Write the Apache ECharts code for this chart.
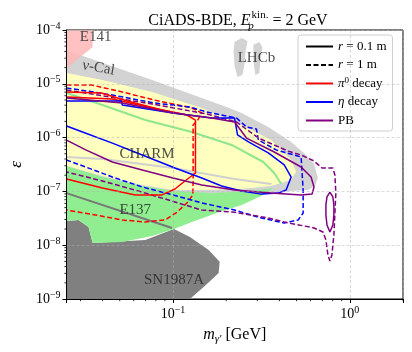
<!DOCTYPE html>
<html>
<head>
<meta charset="utf-8">
<script src="https://cdn.jsdelivr.net/npm/echarts@6/dist/echarts.min.js"></script>
<style>
html, body { margin: 0; padding: 0; background: #fff; }
#chart { width: 412px; height: 352px; }
</style>
</head>
<body>
<div id="chart"></div>
<script>
// axis ranges: dark photon mass m [GeV] and kinetic mixing epsilon
const massRange = [0.025, 2];
const epsRange = [1e-9, 1e-4];
const massMinorTicks = [0.03, 0.04, 0.05, 0.06, 0.07, 0.08, 0.09, 0.2, 0.3, 0.4, 0.5, 0.6, 0.7, 0.8, 0.9, 2];
const epsMinorTicks = [];
[1e-9, 1e-8, 1e-7, 1e-6, 1e-5].forEach(d => { [2, 3, 4, 5, 6, 7, 8, 9].forEach(k => epsMinorTicks.push(k * d)); });

// existing bounds (filled regions), points as [m, eps]
const e141Region = [[0.025, 1e-4], [0.0351, 1e-4], [0.0351, 4.8e-5], [0.025, 1.97e-5]];
const nuCalRegion = [[0.025, 4.2e-5], [0.0762, 1.18e-5], [0.2011, 3.71e-6], [0.2443, 2.87e-6], [0.3461, 1.57e-6], [0.4662, 8.3e-7], [0.5662, 4.75e-7], [0.6276, 3.23e-7], [0.6607, 1.77e-7], [0.6359, 1.26e-7], [0.5807, 1.06e-7], [0.4662, 1.02e-7], [0.278, 9.3e-8], [0.025, 9.3e-8]];
const lhcbRegionA = [[0.223, 6.0e-5], [0.2443, 7.1e-5], [0.2638, 6.25e-5], [0.257, 3.9e-5], [0.2537, 2.33e-5], [0.2472, 1.46e-5], [0.2318, 1.34e-5], [0.223, 2.14e-5], [0.2202, 3.9e-5]];
const lhcbRegionB = [[0.2851, 5.3e-5], [0.3081, 6.0e-5], [0.3206, 4.8e-5], [0.3121, 2.77e-5], [0.3081, 1.59e-5], [0.2925, 1.46e-5], [0.2851, 2.54e-5]];
const charmRegion = [[0.025, 1.59e-5], [0.0399, 1.18e-5], [0.0762, 7.04e-6], [0.1455, 3.55e-6], [0.2443, 1.71e-6], [0.3597, 9.0e-7], [0.4662, 3.83e-7], [0.4974, 2.3e-7], [0.4786, 1.93e-7], [0.4662, 1.63e-7], [0.3597, 1.26e-7], [0.2443, 1.11e-7], [0.1455, 1.06e-7], [0.1, 1.06e-7], [0.067, 1.32e-7], [0.0399, 1.93e-7], [0.025, 2.97e-7]];
const e137Region = [[0.025, 2.97e-7], [0.0399, 1.85e-7], [0.067, 1.26e-7], [0.1, 1.02e-7], [0.1656, 9.3e-8], [0.278, 1.02e-7], [0.369, 1.16e-7], [0.3244, 8.6e-8], [0.2443, 5.6e-8], [0.1767, 3.97e-8], [0.1279, 2.7e-8], [0.1013, 2.0e-8], [0.0762, 1.48e-8], [0.0517, 1.15e-8], [0.0351, 1.10e-8], [0.0333, 2.18e-8], [0.0292, 2.94e-8], [0.025, 2.82e-8]];
const sn1987aRegion = [[0.025, 2.82e-8], [0.0292, 2.94e-8], [0.0333, 2.18e-8], [0.0351, 1.10e-8], [0.0697, 1.25e-8], [0.1013, 2.0e-8], [0.1246, 1.42e-8], [0.1592, 8.1e-9], [0.1836, 4.9e-9], [0.1813, 3.04e-9], [0.1513, 1.75e-9], [0.1246, 1e-9], [0.025, 1e-9]];

// other bound curves
const lightGreenCurve = [[0.025, 6.75e-6], [0.0399, 4.04e-6], [0.0697, 2.12e-6], [0.1279, 1.27e-6], [0.2145, 7.3e-7], [0.3244, 3.52e-7], [0.3739, 2.2e-7], [0.4097, 1.37e-7]];
const silverCurve = [[0.025, 4.36e-7], [0.0399, 4.0e-7], [0.1, 2.72e-7], [0.223, 1.70e-7], [0.3597, 1.37e-7]];
const grayCurve = [[0.025, 9.3e-8], [0.0987, 2.09e-8]];

// CiADS sensitivity contours
const pi0Near = [[0.025, 7.04e-6], [0.0394, 6.75e-6], [0.0551, 4.79e-6], [0.0867, 3.26e-6], [0.1199, 2.63e-6], [0.134, 2.12e-6], [0.134, 2.2e-7], [0.1168, 1.56e-7], [0.1026, 1.11e-7], [0.0867, 8.6e-8], [0.0612, 8.6e-8], [0.0399, 1.16e-7], [0.025, 1.70e-7]];
const pi0NearUpper = [[0.025, 5.68e-6], [0.0454, 5.21e-6], [0.0762, 3.55e-6], [0.1124, 2.75e-6]];
const pi0Far = [[0.025, 9.5e-6], [0.0346, 9.5e-6], [0.0517, 7.04e-6], [0.0782, 5.0e-6], [0.1279, 3.55e-6], [0.1455, 2.87e-6], [0.1381, 2.12e-6], [0.130, 1.71e-6], [0.130, 1.63e-7], [0.1295, 8.6e-8], [0.1199, 6.1e-8], [0.1053, 4.1e-8], [0.0902, 2.94e-8], [0.0697, 2.7e-8], [0.0517, 2.94e-8], [0.0365, 3.64e-8], [0.025, 4.5e-8]];
const etaNear = [[0.025, 4.79e-6], [0.051, 4.79e-6], [0.0517, 4.04e-6], [0.1, 2.87e-6], [0.1656, 2.31e-6], [0.223, 2.31e-6], [0.2318, 1.12e-6], [0.2673, 8.3e-7], [0.3461, 5.2e-7], [0.4257, 3.1e-7], [0.4662, 1.85e-7], [0.4365, 1.06e-7], [0.3942, 9.3e-8], [0.3162, 8.9e-8], [0.2443, 1.02e-7], [0.1884, 1.26e-7], [0.1455, 1.77e-7], [0.1026, 2.72e-7], [0.067, 4.75e-7], [0.0454, 7.9e-7], [0.0308, 1.27e-6], [0.025, 1.64e-6]];
const etaFar = [[0.025, 8.4e-6], [0.0454, 6.19e-6], [0.0782, 4.4e-6], [0.1246, 3.71e-6], [0.1552, 2.99e-6], [0.229, 2.31e-6], [0.2605, 1.57e-6], [0.2965, 1.44e-6], [0.3043, 9.0e-7], [0.3837, 5.9e-7], [0.5306, 4.36e-7], [0.5447, 1.06e-7], [0.5447, 3.97e-8], [0.5105, 2.94e-8], [0.4257, 2.59e-8], [0.3162, 3.2e-8], [0.223, 4.5e-8], [0.1455, 6.1e-8], [0.1, 8.6e-8], [0.067, 1.21e-7], [0.0454, 1.85e-7], [0.0321, 2.84e-7], [0.025, 3.83e-7]];
const pbNear = [[0.025, 5.44e-6], [0.0517, 4.4e-6], [0.1, 2.87e-6], [0.1656, 2.31e-6], [0.223, 1.95e-6], [0.2605, 9.8e-7], [0.3739, 5.4e-7], [0.5306, 2.84e-7], [0.6039, 1.85e-7], [0.6276, 1.21e-7], [0.6117, 8.9e-8], [0.5306, 8.6e-8], [0.3597, 9.3e-8], [0.223, 1.06e-7], [0.1455, 1.32e-7], [0.1, 1.77e-7], [0.067, 2.5e-7], [0.0454, 3.52e-7], [0.0321, 5.9e-7], [0.025, 9.0e-7]];
const pbNearIsland = [[0.772, 9.7e-8], [0.802, 7.9e-8], [0.813, 5.6e-8], [0.813, 3.64e-8], [0.802, 2.37e-8], [0.772, 1.76e-8], [0.743, 2.37e-8], [0.733, 3.64e-8], [0.733, 5.6e-8], [0.743, 7.9e-8], [0.772, 9.7e-8]];
const pbFar = [[0.025, 7.7e-6], [0.0762, 4.21e-6], [0.1552, 2.75e-6], [0.229, 1.95e-6], [0.3043, 9.8e-7], [0.4482, 5.6e-7], [0.5306, 4.75e-7], [0.6276, 3.67e-7], [0.6961, 2.72e-7], [0.802, 2.72e-7], [0.824, 2.02e-7], [0.834, 9.3e-8], [0.813, 1.55e-8], [0.7925, 6.6e-9], [0.772, 5.08e-9], [0.752, 6.6e-9], [0.733, 1.25e-8], [0.7051, 1.76e-8], [0.6276, 2.09e-8], [0.4257, 2.7e-8], [0.3461, 3.2e-8], [0.223, 4.1e-8], [0.1455, 4.5e-8], [0.067, 9.7e-8], [0.0399, 1.56e-7], [0.025, 2.3e-7]];

// region names written on the plot
const regionNames = ['E141', 'ν-Cal', 'LHCb', 'CHARM', 'E137', 'SN1987A'];
const regionNamePos = [[0.0365, 7.4e-5], [0.0379, 1.97e-5], [0.2965, 3.0e-5], [0.0714, 4.96e-7], [0.0612, 4.5e-8], [0.1013, 2.25e-9]];
const regionNameTilt = [0, -10, 0, 0, 0, 0];

const legendNames = ['r = 0.1 m', 'r = 1 m', 'π0 decay', 'η decay', 'PB'];

const SERIF = '"Liberation Serif", "DejaVu Serif", serif';
const chart = echarts.init(document.getElementById('chart'));

function region(name, pts, color) {
    return {
        type: 'custom', name: name, data: pts, silent: true, z: 1,
        renderItem: function (params, api) {
            if (params.dataIndex !== 0) return null;
            return {
                type: 'polygon',
                shape: { points: pts.map(p => api.coord(p)) },
                style: { fill: color, stroke: null }
            };
        }
    };
}

function curve(name, pts, color, dashed, width) {
    return {
        type: 'line', name: name, data: pts, symbol: 'none', silent: true, z: 3,
        lineStyle: { color: color, width: width || 1.5, type: dashed ? [5, 2.5] : 'solid' },
        itemStyle: { color: color }
    };
}

function powLabel(v) {
    const e = Math.log10(v);
    const r = Math.round(e);
    if (Math.abs(e - r) > 1e-6) return '';
    return '{b|10}{s|' + String(r).replace('-', '−') + '}';
}

const tickRich = {
    b: { fontFamily: SERIF, fontSize: 14, lineHeight: 18, color: '#000' },
    s: { fontFamily: SERIF, fontSize: 10, lineHeight: 9, verticalAlign: 'top', color: '#000' }
};

const option = {
    animation: false,
    backgroundColor: '#fff',
    title: {
        text: '{b|CiADS-BDE, }{i|E}{sub|p}{sup|kin.}{b| = 2 GeV}',
        left: 233, top: 5, textAlign: 'center',
        textStyle: {
            fontWeight: 'normal',
            rich: {
                b: { fontFamily: SERIF, fontSize: 16, lineHeight: 22, fontWeight: 'normal', color: '#000' },
                i: { fontFamily: SERIF, fontSize: 16, lineHeight: 22, fontStyle: 'italic', fontWeight: 'normal', color: '#000' },
                sub: { fontFamily: SERIF, fontSize: 11, lineHeight: 14, verticalAlign: 'bottom', fontStyle: 'italic', fontWeight: 'normal', width: 1, color: '#000' },
                sup: { fontFamily: SERIF, fontSize: 11, lineHeight: 11, verticalAlign: 'top', fontWeight: 'normal', color: '#000' }
            }
        }
    },
    grid: { left: 64, right: 9, top: 30, bottom: 53, show: true, borderColor: '#000', borderWidth: 1 },
    legend: {
        data: legendNames,
        orient: 'vertical', left: 298, top: 35,
        itemWidth: 27, itemHeight: 14, itemGap: 3.5,
        padding: [4, 6, 3, 7],
        borderColor: '#cfcfcf', borderWidth: 1, borderRadius: 3,
        backgroundColor: 'rgba(255,255,255,0.85)',
        selectedMode: false,
        itemStyle: { opacity: 0, borderWidth: 0 },
        textStyle: { fontFamily: SERIF, fontSize: 13, lineHeight: 15, color: '#000',
            rich: {
                i: { fontStyle: 'italic', fontFamily: SERIF, fontSize: 13 },
                s: { fontFamily: SERIF, fontSize: 9, lineHeight: 8, verticalAlign: 'top' }
            }
        },
        formatter: function (name) {
            if (name === 'r = 0.1 m') return '{i|r} = 0.1 m';
            if (name === 'r = 1 m') return '{i|r} = 1 m';
            if (name === 'π0 decay') return '{i|π}{s|0} decay';
            if (name === 'η decay') return '{i|η} decay';
            return name;
        }
    },
    xAxis: {
        type: 'log', logBase: 10, min: massRange[0], max: massRange[1], z: 5,
        name: '{i|m}{sub|γ′}{n| [GeV]}', nameLocation: 'middle', nameGap: 26,
        nameTextStyle: {
            rich: {
                i: { fontFamily: SERIF, fontSize: 16, lineHeight: 20, fontStyle: 'italic', color: '#000' },
                sub: { fontFamily: SERIF, fontSize: 11, lineHeight: 15, verticalAlign: 'bottom', fontStyle: 'italic', color: '#000' },
                n: { fontFamily: SERIF, fontSize: 16, lineHeight: 20, color: '#000' }
            }
        },
        axisLine: { lineStyle: { color: '#000', width: 1 } },
        axisTick: { length: 4, lineStyle: { color: '#000', width: 1 } },
        axisLabel: { formatter: powLabel, rich: tickRich, margin: 6, showMinLabel: true, showMaxLabel: true },
        splitLine: { show: true, lineStyle: { color: 'rgba(176,176,176,0.6)', type: [3, 2], width: 0.8 } },
        minorTick: { show: false }
    },
    yAxis: {
        type: 'log', logBase: 10, min: epsRange[0], max: epsRange[1], z: 5,
        name: 'ε', nameLocation: 'middle', nameGap: 38, nameRotate: 90,
        nameTextStyle: { fontFamily: SERIF, fontSize: 17, fontStyle: 'italic', color: '#000' },
        axisLine: { lineStyle: { color: '#000', width: 1 } },
        axisTick: { length: 4, lineStyle: { color: '#000', width: 1 } },
        axisLabel: { formatter: powLabel, rich: tickRich, margin: 6 },
        splitLine: { show: true, lineStyle: { color: 'rgba(176,176,176,0.6)', type: [3, 2], width: 0.8 } },
        minorTick: { show: false }
    },
    series: [
        region('nu-Cal', nuCalRegion, '#d3d3d3'),
        region('E141', e141Region, 'rgba(255,182,182,0.85)'),
        region('LHCb a', lhcbRegionA, '#d3d3d3'),
        region('LHCb b', lhcbRegionB, '#d3d3d3'),
        region('CHARM', charmRegion, '#ffffbf'),
        region('SN1987A', sn1987aRegion, '#808080'),
        region('E137', e137Region, '#90ee90'),
        curve('light green bound', lightGreenCurve, '#8fe68f', false, 2),
        curve('silver bound', silverCurve, '#d0d0d0', false, 2),
        curve('gray bound', grayCurve, '#787878', false, 2),
        curve('r = 0.1 m', [], '#000', false),
        curve('r = 1 m', [], '#000', true),
        curve('π0 decay r=1', pi0Far, '#ff0000', true),
        curve('η decay r=1', etaFar, '#0000ff', true),
        curve('PB r=1', pbFar, '#800080', true),
        curve('π0 decay', pi0Near, '#ff0000', false),
        curve('π0 decay upper', pi0NearUpper, '#ff0000', false),
        curve('η decay', etaNear, '#0000ff', false),
        curve('PB', pbNear, '#800080', false),
        curve('PB island', pbNearIsland, '#800080', false),
        {
            type: 'scatter', name: 'region names', symbolSize: 0, silent: true, z: 4,
            data: regionNames.map((n, i) => ({
                name: n, value: regionNamePos[i],
                label: { rotate: regionNameTilt[i] }
            })),
            label: { show: true, position: 'inside', formatter: '{b}', fontFamily: SERIF, fontSize: 15, color: '#222' }
        },
        {
            type: 'custom', name: 'x minor ticks', silent: true, clip: false, z: 6,
            data: massMinorTicks.map(v => [v, epsRange[0]]),
            renderItem: function (params, api) {
                const p = api.coord([api.value(0), api.value(1)]);
                return { type: 'line', shape: { x1: p[0], y1: p[1], x2: p[0], y2: p[1] + 2.2 }, style: { stroke: '#000', lineWidth: 0.8 } };
            }
        },
        {
            type: 'custom', name: 'y minor ticks', silent: true, clip: false, z: 6,
            data: epsMinorTicks.map(v => [massRange[0], v]),
            renderItem: function (params, api) {
                const p = api.coord([api.value(0), api.value(1)]);
                return { type: 'line', shape: { x1: p[0] - 2.2, y1: p[1], x2: p[0], y2: p[1] }, style: { stroke: '#000', lineWidth: 0.8 } };
            }
        }
    ]
};

chart.setOption(option);
</script>
</body>
</html>
